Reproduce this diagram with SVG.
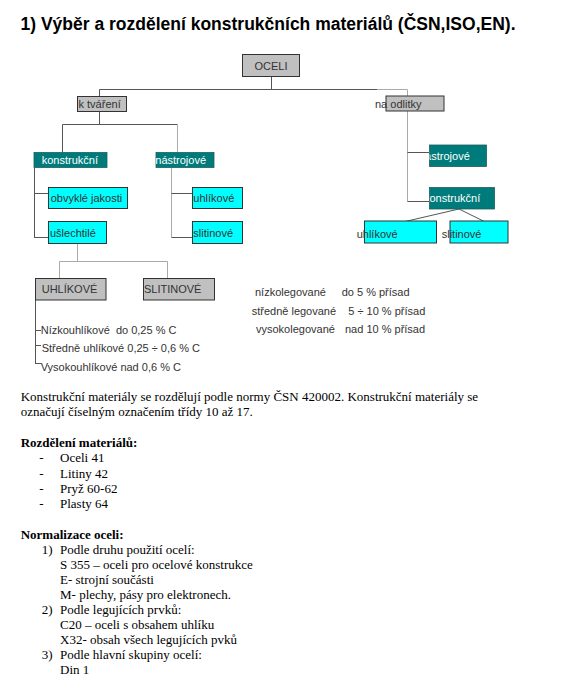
<svg xmlns="http://www.w3.org/2000/svg" width="568" height="690" viewBox="0 0 568 690">
<style>
.bg{fill:#ffffff}
.gray{fill:#c0c0c0;stroke:#333;stroke-width:1}
.teal{fill:#007b7b;stroke:#1f5f5f;stroke-width:0.8}
.cyan{fill:#00ffff;stroke:#333;stroke-width:1}
.t{font-family:"Liberation Sans",Arial,sans-serif;font-size:11px;fill:#333}
.tw{font-family:"Liberation Sans",Arial,sans-serif;font-size:11px;fill:#ffffff}
.title{font-family:"Liberation Sans",Arial,sans-serif;font-size:17.5px;font-weight:bold;fill:#000}
.b{font-family:"Liberation Serif","Times New Roman",serif;font-size:13px;fill:#000}
.bb{font-family:"Liberation Serif","Times New Roman",serif;font-size:13px;font-weight:bold;fill:#000}
.c{stroke:#555;stroke-width:1;fill:none}
.cl{stroke:#aaa;stroke-width:1;fill:none}
</style>
<defs>
<clipPath id="clipNastrL"><rect x="156" y="152.5" width="58" height="15"/></clipPath>
<clipPath id="clipNastrR"><rect x="429.5" y="145" width="57" height="21.5"/></clipPath>
<clipPath id="clipKonstrR"><rect x="429.5" y="187.5" width="65" height="21.5"/></clipPath>
</defs>
<rect class="bg" x="0" y="0" width="568" height="690"/>
<text class="title" x="20.5" y="30">1) Výběr a rozdělení konstrukčních materiálů (ČSN,ISO,EN).</text>

<g id="connectors">
<path class="c" d="M271.5 76.5 V89.5 M99.5 89.5 H377"/>
<path class="cl" d="M377 89.5 H407.5 V201.5"/>
<path class="c" d="M99.5 89.5 V96.5 M99.5 111.5 V124.5 M62.5 124.5 H177.5 M62.5 124.5 V152.5"/>
<path class="cl" d="M177.5 124.5 V152.5"/>
<path class="c" d="M34.5 167.5 V238 M34.5 193.5 H48.5 M34.5 237.5 H48.5"/>
<path class="cl" d="M171.5 167.5 V237.5"/>
<path class="c" d="M171.5 193.5 H192.5 M171.5 237.5 H192.5"/>
<path class="cl" d="M77.5 243.5 V261.5 M59.5 261.5 H167.5 M59.5 261.5 V278.5 M167.5 261.5 V278.5"/>
<path class="c" d="M35.5 300 V364 M35.5 330.5 H41 M35.5 345.5 H41 M35.5 363.5 H41"/>
<path class="c" d="M407.5 152.5 H429.5 M407.5 201.5 H429.5"/>
<path class="c" d="M459 209 L401.7 222.3 M459 209 L486.7 222.7"/>
</g>

<g id="oceli"><rect class="gray" x="242.5" y="54.5" width="57" height="22"/><text class="t" x="271" y="69.5" text-anchor="middle">OCELI</text></g>
<g id="k-tvareni"><rect class="gray" x="77.5" y="96.5" width="49" height="15"/><text class="t" x="78.5" y="108">k tváření</text></g>
<g id="na-odlitky"><rect class="gray" x="386" y="96" width="58" height="15"/><text class="t" x="375" y="108">na odlitky</text></g>

<g id="konstrukcni-l"><rect class="teal" x="34" y="152.5" width="73" height="15"/><text class="tw" x="41.7" y="163.5">konstrukční</text></g>
<g id="nastrojove-l"><rect class="teal" x="156" y="152.5" width="58" height="15"/><text class="tw" x="155.3" y="163.5" clip-path="url(#clipNastrL)">nástrojové</text></g>

<g id="obvykle"><rect class="cyan" x="48.5" y="187.5" width="79" height="21"/><text class="t" x="50.7" y="202">obvyklé jakosti</text></g>
<g id="uslechtile"><rect class="cyan" x="48.5" y="221.5" width="58" height="22"/><text class="t" x="50" y="236.5">ušlechtilé</text></g>
<g id="uhlikove-l"><rect class="cyan" x="192.5" y="187.5" width="50" height="21"/><text class="t" x="193.3" y="202">uhlíkové</text></g>
<g id="slitinove-l"><rect class="cyan" x="192.5" y="221.5" width="50" height="22"/><text class="t" x="193.3" y="236.5">slitinové</text></g>

<g id="nastrojove-r"><rect class="teal" x="429.5" y="145" width="57" height="21.5"/><text class="tw" x="419" y="160" clip-path="url(#clipNastrR)">nástrojové</text></g>
<g id="konstrukcni-r"><rect class="teal" x="429.5" y="187.5" width="65" height="21.5"/><text class="tw" x="424" y="202" clip-path="url(#clipKonstrR)">konstrukční</text></g>
<g id="uhlikove-r"><rect class="cyan" x="364.5" y="221" width="72" height="22"/><text class="t" x="356.7" y="238">uhlíkové</text></g>
<g id="slitinove-r"><rect class="cyan" x="450" y="221" width="58" height="22"/><text class="t" x="441.7" y="238">slitinové</text></g>

<g id="uhlikove-big"><rect class="gray" x="35.5" y="278.5" width="70.5" height="21.5"/><text class="t" x="41.7" y="293">UHLÍKOVÉ</text></g>
<g id="slitinove-big"><rect class="gray" x="143.5" y="278.5" width="71" height="21.5"/><text class="t" x="144" y="293">SLITINOVÉ</text></g>

<g id="uhlik-list">
<text class="t" x="40.7" y="334">Nízkouhlíkové&#160; do 0,25 % C</text>
<text class="t" x="41.7" y="352">Středně uhlíkové 0,25 ÷ 0,6 % C</text>
<text class="t" x="40.7" y="370.5">Vysokouhlíkové nad 0,6 % C</text>
</g>
<g id="leg-list">
<text class="t" x="255" y="295.5">nízkolegované</text><text class="t" x="341.7" y="295.5">do 5 % přísad</text>
<text class="t" x="251.7" y="314.5">středně legované</text><text class="t" x="348.3" y="314.5">5 ÷ 10 % přísad</text>
<text class="t" x="256" y="333">vysokolegované</text><text class="t" x="345" y="333">nad 10 % přísad</text>
</g>

<g id="body">
<text class="b" x="20.7" y="401">Konstrukční materiály se rozdělují podle normy ČSN 420002. Konstrukční materiály se</text>
<text class="b" x="20.7" y="416">označují číselným označením třídy 10 až 17.</text>
<text class="bb" x="20.7" y="447">Rozdělení materiálů:</text>
<text class="b" x="39.3" y="462">-</text><text class="b" x="60" y="462">Oceli 41</text>
<text class="b" x="39.3" y="477.5">-</text><text class="b" x="60" y="477.5">Litiny 42</text>
<text class="b" x="39.3" y="493">-</text><text class="b" x="60" y="493">Pryž 60-62</text>
<text class="b" x="39.3" y="508">-</text><text class="b" x="60" y="508">Plasty 64</text>
<text class="bb" x="20.7" y="539">Normalizace oceli:</text>
<text class="b" x="41.7" y="554">1)</text><text class="b" x="60" y="554">Podle druhu použití ocelí:</text>
<text class="b" x="60" y="569">S 355 – oceli pro ocelové konstrukce</text>
<text class="b" x="60" y="584">E- strojní součásti</text>
<text class="b" x="60" y="598.5">M- plechy, pásy pro elektronech.</text>
<text class="b" x="41.7" y="613.5">2)</text><text class="b" x="60" y="613.5">Podle legujících prvků:</text>
<text class="b" x="60" y="629">C20 – oceli s obsahem uhlíku</text>
<text class="b" x="60" y="644">X32- obsah všech legujících pvků</text>
<text class="b" x="41.7" y="659">3)</text><text class="b" x="60" y="659">Podle hlavní skupiny ocelí:</text>
<text class="b" x="60" y="674">Din 1</text>
</g>
</svg>
